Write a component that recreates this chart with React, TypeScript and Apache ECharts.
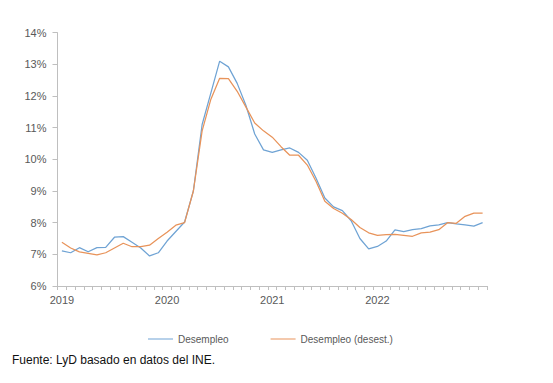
import React, { useEffect, useRef } from "react";
import * as echarts from "echarts";

const months: string[] = [
  "2019-01","2019-02","2019-03","2019-04","2019-05","2019-06","2019-07","2019-08","2019-09","2019-10","2019-11","2019-12",
  "2020-01","2020-02","2020-03","2020-04","2020-05","2020-06","2020-07","2020-08","2020-09","2020-10","2020-11","2020-12",
  "2021-01","2021-02","2021-03","2021-04","2021-05","2021-06","2021-07","2021-08","2021-09","2021-10","2021-11","2021-12",
  "2022-01","2022-02","2022-03","2022-04","2022-05","2022-06","2022-07","2022-08","2022-09","2022-10","2022-11","2022-12",
  "2023-01",
];

const yearLabels: string[] = ["2019-01", "2020-01", "2021-01", "2022-01"];

const desempleo: number[] = [
  7.11, 7.05, 7.21, 7.08, 7.21, 7.22, 7.54, 7.56, 7.38, 7.2, 6.95, 7.05,
  7.42, 7.72, 8.02, 9.0, 11.1, 12.1, 13.1, 12.92, 12.4, 11.7, 10.8, 10.3,
  10.22, 10.3, 10.36, 10.22, 9.97, 9.4, 8.78, 8.5, 8.38, 8.06, 7.5, 7.17,
  7.25, 7.42, 7.77, 7.72, 7.78, 7.81, 7.9, 7.93, 8.0, 7.96, 7.93, 7.89,
  8.0,
];

const desempleoDesest: number[] = [
  7.38, 7.2, 7.08, 7.03, 6.98, 7.05, 7.2, 7.35, 7.24, 7.24, 7.29, 7.5,
  7.7, 7.92, 8.0, 9.0, 10.9, 11.9, 12.56, 12.55, 12.15, 11.65, 11.15, 10.9,
  10.7, 10.4, 10.13, 10.13, 9.82, 9.3, 8.68, 8.45, 8.3, 8.1, 7.85, 7.68,
  7.6, 7.62, 7.63, 7.6, 7.57, 7.68, 7.7, 7.78, 8.0, 7.98, 8.2, 8.3,
  8.3,
];

const seriesNames: string[] = ["Desempleo", "Desempleo (desest.)"];
const yMin = 6;
const yMax = 14;
const yStep = 1;
const footer = "Fuente: LyD basado en datos del INE.";

export default function App() {
  const ref = useRef<HTMLDivElement>(null);
  useEffect(() => {
    if (!ref.current) return;
    const chart = echarts.init(ref.current, undefined, { renderer: "svg" });
    const font = "'Liberation Sans', Arial, sans-serif";
    const blue = "#6fa3d4";
    const orange = "#e8935a";
    chart.setOption({
      animation: false,
      backgroundColor: "#ffffff",
      grid: { left: 57.5, right: 66, top: 32.7, bottom: 97, containLabel: false },
      xAxis: {
        type: "category",
        data: months,
        boundaryGap: true,
        axisLine: { lineStyle: { color: "#bfbfbf", width: 1 } },
        axisTick: { show: true, interval: 0, length: 4, lineStyle: { color: "#bfbfbf" } },
        axisLabel: {
          interval: 0,
          margin: 8,
          color: "#595959",
          fontSize: 11,
          fontFamily: font,
          formatter: (v: string) => (yearLabels.includes(v) ? v.slice(0, 4) : ""),
        },
        splitLine: { show: false },
      },
      yAxis: {
        type: "value",
        min: yMin,
        max: yMax,
        interval: yStep,
        axisLine: { show: true, lineStyle: { color: "#bfbfbf", width: 1 } },
        axisTick: { show: true, length: 5, lineStyle: { color: "#bfbfbf" } },
        axisLabel: {
          margin: 11,
          color: "#595959",
          fontSize: 11,
          fontFamily: font,
          formatter: "{value}%",
        },
        splitLine: { show: false },
      },
      legend: {
        left: 143,
        top: 329,
        itemWidth: 25,
        itemHeight: 1,
        itemGap: 42,
        icon: "rect",
        textStyle: { color: "#595959", fontSize: 10, fontFamily: font },
        data: [
          { name: seriesNames[0], icon: "rect", itemStyle: { color: blue } },
          { name: seriesNames[1], icon: "rect", itemStyle: { color: orange } },
        ],
      },
      graphic: [
        {
          type: "text",
          left: 12,
          top: 354,
          style: { text: footer, fill: "#111111", fontSize: 12, fontFamily: font },
        },
      ],
      series: [
        {
          name: seriesNames[0],
          type: "line",
          data: desempleo,
          symbol: "none",
          lineStyle: { color: blue, width: 1.25 },
          itemStyle: { color: blue },
        },
        {
          name: seriesNames[1],
          type: "line",
          data: desempleoDesest,
          symbol: "none",
          lineStyle: { color: orange, width: 1.25 },
          itemStyle: { color: orange },
        },
      ],
    });
    return () => chart.dispose();
  }, []);
  return (
    <div
      ref={ref}
      style={{ position: "absolute", left: 0, top: 0, width: 553, height: 383 }}
    />
  );
}
